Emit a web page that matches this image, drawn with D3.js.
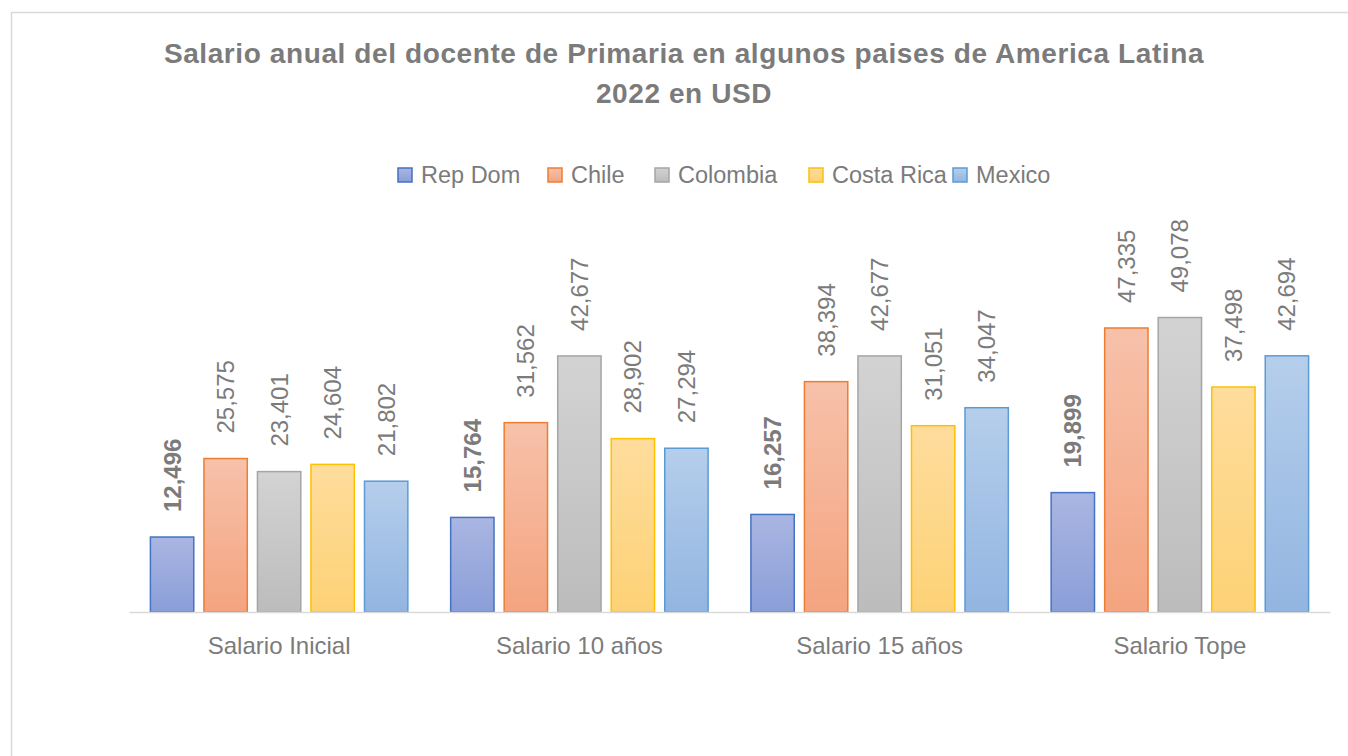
<!DOCTYPE html>
<html>
<head>
<meta charset="utf-8">
<script src="https://cdn.jsdelivr.net/npm/d3@7"></script>
<style>
  body { margin: 0; background: #fff; }
  svg { display: block; font-family: "Liberation Sans", Arial, sans-serif; }
</style>
</head>
<body>
<svg id="chart" width="1348" height="756"></svg>
<script>
// Data
const categories = ["Salario Inicial", "Salario 10 años", "Salario 15 años", "Salario Tope"];
const seriesNames = ["Rep Dom", "Chile", "Colombia", "Costa Rica", "Mexico"];
const repDom = [12496, 15764, 16257, 19899];
const chile = [25575, 31562, 38394, 47335];
const colombia = [23401, 42677, 42677, 49078];
const costaRica = [24604, 28902, 31051, 37498];
const mexico = [21802, 27294, 34047, 42694];
const titleLines = ["Salario anual del docente de Primaria en algunos paises de America Latina", "2022 en USD"];

const seriesValues = [repDom, chile, colombia, costaRica, mexico];

// Excel-like gradient fills: [top, bottom, stroke]
const palette = [
  ["#aab6e2", "#8a9ed8", "#4472c4"],
  ["#f7c1aa", "#f4a47f", "#ed7d31"],
  ["#d3d3d3", "#bcbcbc", "#a5a5a5"],
  ["#fedc9c", "#fdd276", "#ffc000"],
  ["#b5ceeb", "#92b5e1", "#5b9bd5"]
];

const svg = d3.select("#chart");
const textColor = "#7b7b7b";

// chart border
svg.append("rect")
  .attr("x", 11.5).attr("y", 12.5)
  .attr("width", 1360).attr("height", 760)
  .attr("fill", "#fff")
  .attr("stroke", "#d9d9d9")
  .attr("stroke-width", 1.5);

// gradients
const defs = svg.append("defs");
palette.forEach((c, i) => {
  const g = defs.append("linearGradient")
    .attr("id", "grad" + i)
    .attr("x1", 0).attr("y1", 0).attr("x2", 0).attr("y2", 1);
  g.append("stop").attr("offset", "0%").attr("stop-color", c[0]);
  g.append("stop").attr("offset", "100%").attr("stop-color", c[1]);
});

// Title
svg.append("g")
  .selectAll("text")
  .data(titleLines)
  .join("text")
  .attr("x", 684)
  .attr("y", (d, i) => 63 + i * 40)
  .attr("text-anchor", "middle")
  .attr("font-size", 28)
  .attr("letter-spacing", 0.6)
  .attr("font-weight", "bold")
  .attr("fill", textColor)
  .text(d => d);

// Scales
const x0 = d3.scaleBand().domain(categories).range([129, 1330]).padding(0);
const x1 = d3.scaleBand().domain(seriesNames)
  .range([0, x0.bandwidth()])
  .paddingInner(0.19)
  .paddingOuter(0.4);
const y = d3.scaleLinear().domain([0, 60000]).range([612, 252]);

// Bars
const groups = svg.append("g")
  .selectAll("g")
  .data(seriesNames)
  .join("g");

groups.each(function (name, si) {
  const g = d3.select(this);
  const vals = seriesValues[si].map((v, ci) => ({ cat: categories[ci], value: v }));
  g.selectAll("rect")
    .data(vals)
    .join("rect")
    .attr("x", d => x0(d.cat) + x1(name))
    .attr("y", d => y(d.value))
    .attr("width", x1.bandwidth())
    .attr("height", d => y(0) - y(d.value))
    .attr("fill", `url(#grad${si})`)
    .attr("stroke", palette[si][2])
    .attr("stroke-width", 1.5);

  g.selectAll("text")
    .data(vals)
    .join("text")
    .attr("transform", d => {
      const cx = x0(d.cat) + x1(name) + x1.bandwidth() / 2;
      return `translate(${cx},${y(d.value) - 25}) rotate(-90)`;
    })
    .attr("dominant-baseline", "central")
    .attr("font-size", 24)
    .attr("font-weight", si === 0 ? "bold" : "normal")
    .attr("fill", textColor)
    .text(d => d3.format(",")(d.value));
});

// Bottom axis
const axis = svg.append("g")
  .attr("transform", `translate(0, ${y(0)})`)
  .call(d3.axisBottom(x0).tickSize(0).tickSizeOuter(0).tickPadding(25));
axis.select(".domain").attr("stroke", "#d9d9d9").attr("stroke-width", 1.5);
axis.selectAll(".tick text")
  .attr("font-size", 24)
  .attr("font-family", "Liberation Sans, Arial, sans-serif")
  .attr("fill", textColor);

// Legend
const legendX = [398, 548, 655, 809, 953];
const legend = svg.append("g")
  .selectAll("g")
  .data(seriesNames)
  .join("g")
  .attr("transform", (d, i) => `translate(${legendX[i]}, 168)`);
legend.append("rect")
  .attr("width", 14).attr("height", 14)
  .attr("fill", (d, i) => `url(#grad${i})`)
  .attr("stroke", (d, i) => palette[i][2])
  .attr("stroke-width", 1.5);
legend.append("text")
  .attr("x", 23).attr("y", 7)
  .attr("dominant-baseline", "central")
  .attr("font-size", 23.5)
  .attr("fill", textColor)
  .text(d => d);
</script>
</body>
</html>
